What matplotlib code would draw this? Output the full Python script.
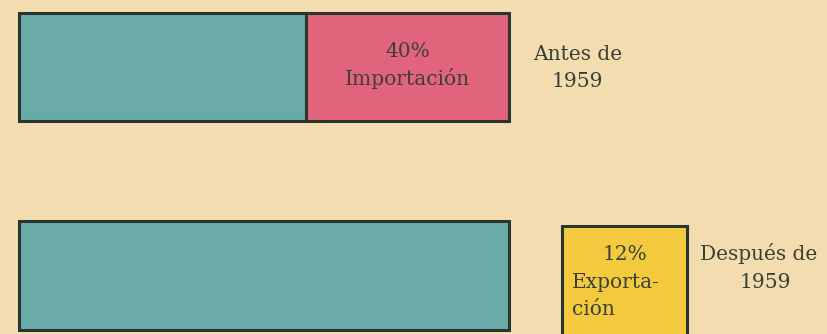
import matplotlib
matplotlib.use("Agg")
import matplotlib.pyplot as plt
from matplotlib.patches import Rectangle

# Data
periods = [["Antes de", "1959"], ["Después de", "1959"]]
domestic = [58.5, 100]        # teal portion (as drawn)
importacion = [41.5, 0]       # pink portion (as drawn, labelled 40%)
import_label = ["40%", "Importación"]
export_value_label = "12%"
export_word = ["Exporta-", "ción"]

BG = "#f3ddb0"
TEAL = "#68aba8"
PINK = "#e2637c"
YELLOW = "#f3ca3e"
EDGE = "#2c3430"
TXT = "#3c3f35"

fig = plt.figure(figsize=(8.28, 3.34), dpi=100, facecolor=BG)
ax = fig.add_axes([0, 0, 1, 1])
ax.set_facecolor(BG)
ax.set_xlim(-3.88, 165.1)
ax.set_ylim(1.281, -0.321)
ax.axis("off")

y = [0, 1]
h = 0.52
ax.barh(y, domestic, height=h, color=TEAL, edgecolor=EDGE, linewidth=2.2)
ax.barh(y[0], importacion[0], left=domestic[0], height=h, color=PINK,
        edgecolor=EDGE, linewidth=2.2)

font = ["DejaVu Serif"]
fs = 14.5
kw = dict(fontsize=fs, family=font, color=TXT, va="baseline")

# label inside pink segment
cx = domestic[0] + importacion[0] / 2
ax.text(cx, -0.048, import_label[0], ha="center", **kw)
ax.text(cx, 0.0863, import_label[1], ha="center", **kw)

# period label top
ax.text(114.0, -0.0336, periods[0][0], ha="center", **kw)
ax.text(114.0, 0.0959, periods[0][1], ha="center", **kw)

# yellow export box
box = Rectangle((110.8, 0.763), 25.5, 0.6, facecolor=YELLOW, edgecolor=EDGE,
                linewidth=2.2, clip_on=True)
ax.add_patch(box)
ax.text(123.7, 0.9257, export_value_label, ha="center", **kw)
ax.text(112.9, 1.060, export_word[0], ha="left", **kw)
ax.text(112.9, 1.1894, export_word[1], ha="left", **kw)

# period label bottom
ax.text(151.0, 0.9257, periods[1][0], ha="center", **kw)
ax.text(152.2, 1.060, periods[1][1], ha="center", **kw)

fig.savefig("out.png", dpi=100, facecolor=BG)
